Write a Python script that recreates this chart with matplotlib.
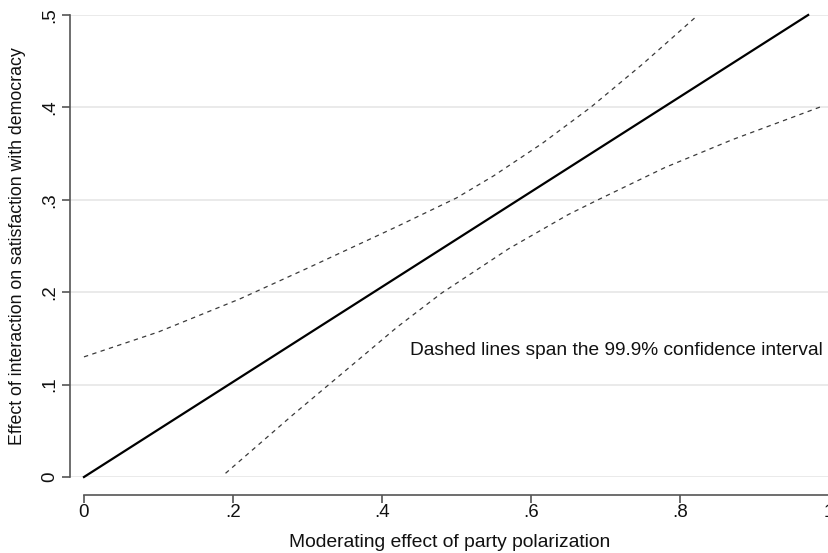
import matplotlib.pyplot as plt

plt.rcParams['font.family'] = ['Liberation Sans', 'DejaVu Sans']

# estimated marginal effect (solid) and its 99.9% CI bounds (dashed)
effect_x = [0.0, 0.972]
effect_y = [0.0, 0.5]

upper_x = [0.0, 0.10, 0.21, 0.30, 0.42, 0.50, 0.55, 0.615, 0.68, 0.75, 0.82]
upper_y = [0.130, 0.157, 0.193, 0.226, 0.271, 0.302, 0.326, 0.361, 0.400, 0.447, 0.497]

lower_x = [0.19, 0.28, 0.37, 0.42, 0.48, 0.57, 0.65, 0.69, 0.78, 0.87, 0.99]
lower_y = [0.004, 0.067, 0.128, 0.162, 0.199, 0.247, 0.284, 0.300, 0.335, 0.365, 0.401]

x_ticks = [0, 0.2, 0.4, 0.6, 0.8, 1.0]
x_labels = ['0', '.2', '.4', '.6', '.8', '1']
y_ticks = [0, 0.1, 0.2, 0.3, 0.4, 0.5]
y_labels = ['0', '.1', '.2', '.3', '.4', '.5']

fig = plt.figure(figsize=(8.29, 5.53), dpi=100)
ax = fig.add_axes([70 / 829, 76 / 553, 759 / 829, 462 / 553])

ax.plot(effect_x, effect_y, color='black', lw=1.6, clip_on=False, zorder=3)
ax.plot(upper_x, upper_y, color='#3a3a3a', lw=0.9, dashes=(3.5, 3.5), clip_on=False)
ax.plot(lower_x, lower_y, color='#3a3a3a', lw=0.9, dashes=(3.5, 3.5), clip_on=False)

ax.text(0.437, 0.137, 'Dashed lines span the 99.9% confidence interval',
        fontsize=13.8, ha='left', va='center', color='#111111')

ax.set_xlim(-14 / 746, 745 / 746)
ax.set_ylim(0, 0.5)

ax.set_xticks(x_ticks)
ax.set_xticklabels(x_labels)
ax.set_yticks(y_ticks)
ax.set_yticklabels(y_labels, rotation=90, va='center')

ax.grid(True, axis='y', color='#e6e6e6', lw=1.2)
ax.set_axisbelow(True)

for side in ['top', 'right']:
    ax.spines[side].set_visible(False)
ax.spines['bottom'].set_position(('outward', 13))
ax.spines['bottom'].set_bounds(0, 1)
ax.spines['left'].set_bounds(0, 0.5)
for side in ['bottom', 'left']:
    ax.spines[side].set_color('#555555')
    ax.spines[side].set_linewidth(1.2)

ax.tick_params(axis='both', length=6, width=1.2, color='#555555',
               labelsize=13.5, labelcolor='#111111')
ax.tick_params(axis='x', pad=0.5)
ax.tick_params(axis='y', pad=2.5)

ax.set_xlabel('Moderating effect of party polarization', fontsize=13.9,
              color='#111111', labelpad=9)
ax.set_ylabel('Effect of interaction on satisfaction with democracy',
              fontsize=12.8, color='#111111', labelpad=11)

fig.savefig('out.png', dpi=100)
